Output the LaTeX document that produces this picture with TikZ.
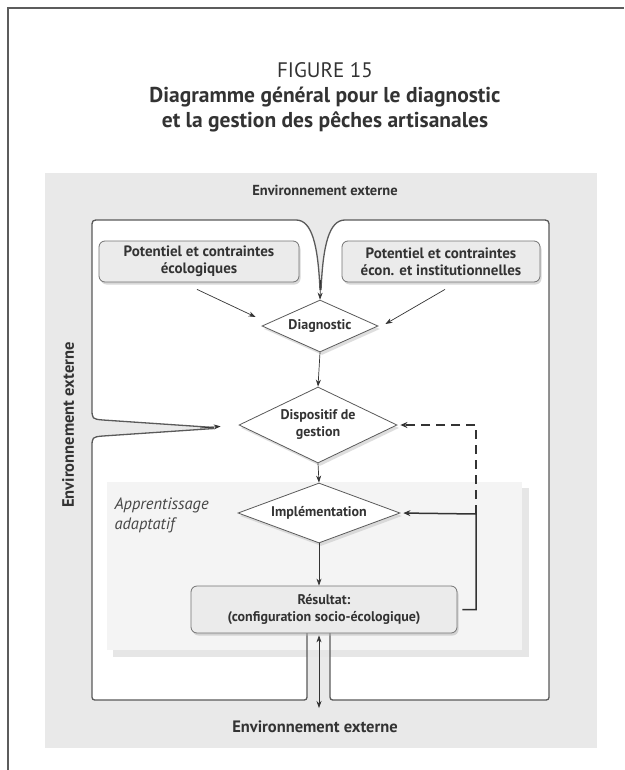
\documentclass[tikz,border=0pt]{standalone}
\usepackage{fontspec}
\setmainfont{PT Sans}
\usetikzlibrary{arrows.meta,shapes.geometric,shadows,calc}
\definecolor{ink}{HTML}{333333}
\definecolor{linec}{HTML}{5A5A5A}
\definecolor{panel}{HTML}{E9E9E9}
\definecolor{boxfill}{HTML}{EBEBEB}
\definecolor{learn}{HTML}{F4F4F4}
\definecolor{learnshadow}{HTML}{E6E6E6}
\definecolor{framec}{HTML}{5C5C5C}

\begin{document}
\begin{tikzpicture}[x=1pt,y=-1pt,
  txt/.style={text=ink, font=\bfseries\fontsize{15}{17}\selectfont, align=center},
  pbox/.style={txt, draw=linec!85, fill=boxfill, rounded corners=6pt, line width=0.8pt,
    inner sep=0pt, drop shadow={shadow xshift=1.5pt, shadow yshift=-2.5pt, fill=black!30, opacity=0.5}},
  decision/.style={txt, diamond, aspect=2.2, draw=linec, fill=white, line width=0.8pt, inner sep=0pt,
    font=\bfseries\fontsize{14}{17}\selectfont,
    drop shadow={shadow xshift=2pt, shadow yshift=-3pt, fill=black!25, opacity=0.5}},
  envlabel/.style={text=ink, font=\bfseries\fontsize{16.5}{19}\selectfont},
  flow/.style={-{Stealth[length=7pt,width=5pt]}, draw=ink, line width=0.7pt},
  feedback/.style={-{Stealth[length=7pt,width=6pt]}, draw=ink, line width=1.5pt},
]
% page frame and outer panel
\useasboundingbox (0,0) rectangle (624,770);
\fill[white] (0,0) rectangle (624,770);
\draw[framec, line width=1.6pt] (8,770) -- (8,8) -- (624,8);
\fill[panel] (45,173) rectangle (597,748);

% title
\node[text=ink, font=\fontsize{21}{24}\selectfont] (fig) at (325,70) {FIGURE 15};
\node[text=ink, font=\bfseries\fontsize{21.5}{25}\selectfont, align=center] (title) at (325,110)
  {Diagramme général pour le diagnostic\\et la gestion des pêches artisanales};

% white system region with inflow funnels (top, left) and outflow gap (bottom)
\path[fill=white] (100,220) -- (296,220) .. controls (312,220) and (318,245) .. (320,290)
  -- (321,290) .. controls (323,245) and (329,220) .. (345,220) -- (541,220)
  .. controls (549,220) .. (549,228) -- (549,694) .. controls (549,700) .. (543,700)
  -- (336,700) .. controls (330,700) .. (330,694) -- (330,633) -- (307,633) -- (307,694)
  .. controls (307,700) .. (301,700) -- (98,700) .. controls (92,700) .. (92,694)
  -- (92,448) .. controls (92,437) .. (103,436) -- (214,428.5) -- (214,427.5)
  -- (103,420) .. controls (92,419) .. (92,408) -- (92,228) .. controls (92,220) .. (100,220) -- cycle;

% adaptive learning area
\fill[learnshadow] (113,488) rectangle (529,657);
\fill[learn] (107,482) rectangle (522,650);
\node[text=ink!90, font=\itshape\fontsize{16.5}{20}\selectfont, align=left, anchor=north west]
  (learnlbl) at (111,494) {Apprentissage\\adaptatif};

% outline of the system region
\draw[linec, line width=1.3pt, line join=round]
  (100,220) -- (296,220) .. controls (312,220) and (318,245) .. (320,290)
  (321,290) .. controls (323,245) and (329,220) .. (345,220) -- (541,220)
  .. controls (549,220) .. (549,228) -- (549,694) .. controls (549,700) .. (543,700)
  -- (336,700) .. controls (330,700) .. (330,694) -- (330,633)
  (307,633) -- (307,694)
  .. controls (307,700) .. (301,700) -- (98,700) .. controls (92,700) .. (92,694)
  -- (92,448) .. controls (92,437) .. (103,436) -- (214,428.5)
  (214,427.5) -- (103,420) .. controls (92,419) .. (92,408) -- (92,228) .. controls (92,220) .. (100,220);

% external environment labels
\node[envlabel, font=\bfseries\fontsize{14.5}{17}\selectfont] (envtop) at (325,190) {Environnement externe};
\node[envlabel] (envbot) at (315,727) {Environnement externe};
\node[envlabel, rotate=90] (envleft) at (68,425) {Environnement externe};

% inputs
\node[pbox, minimum width=200pt, minimum height=41pt] (lbox) at (199,261.5)
  {Potentiel et contraintes\\écologiques};
\node[pbox, minimum width=198pt, minimum height=41pt] (rbox) at (441,261.5)
  {Potentiel et contraintes\\écon. et institutionnelles};

% decisions
\node[decision, minimum width=116pt, minimum height=52pt] (diag) at (320,326) {Diagnostic};
\node[decision, minimum width=158pt, minimum height=76pt] (disp) at (318,425) {Dispositif de\\gestion};
\node[decision, minimum width=162pt, minimum height=60pt] (impl) at (319,513) {Implémentation};

% outcome
\node[pbox, minimum width=266pt, minimum height=47pt, font=\bfseries\fontsize{14}{17}\selectfont]
  (res) at (324,609.5) {Résultat:\\(configuration socio-écologique)};

% connector end points
\coordinate (topin) at (320.5,280);
\coordinate (leftin) at (200,428);
\coordinate (out) at (319,708);
\coordinate (loop) at (476,514);

% connectors
\draw[flow] ($(lbox.south)+(-2,7)$) -- ($(diag.west)+(-6,-9)$);
\draw[flow] ($(rbox.south)+(4,7)$) -- ($(diag.east)+(7,-2)$);
\draw[flow] (topin) -- (diag.north);
\draw[flow, shorten >=18pt] (leftin) -- (disp.west);
\draw[flow] (diag.south) -- (disp.north);
\draw[flow] (disp.south) -- (impl.north);
\draw[flow] (impl.south) -- (impl.south |- res.north);
\draw[flow, {Stealth[length=7pt,width=5pt]}-{Stealth[length=7pt,width=5pt]}, shorten <=2pt]
  (out |- res.south) -- (out);
\draw[feedback, shorten <=5pt, shorten >=3pt] (res.east) -| (loop) -- (impl.east);
\draw[feedback, dash pattern=on 9pt off 6pt, shorten >=3pt] (loop) |- (disp.east);
\end{tikzpicture}
\end{document}
